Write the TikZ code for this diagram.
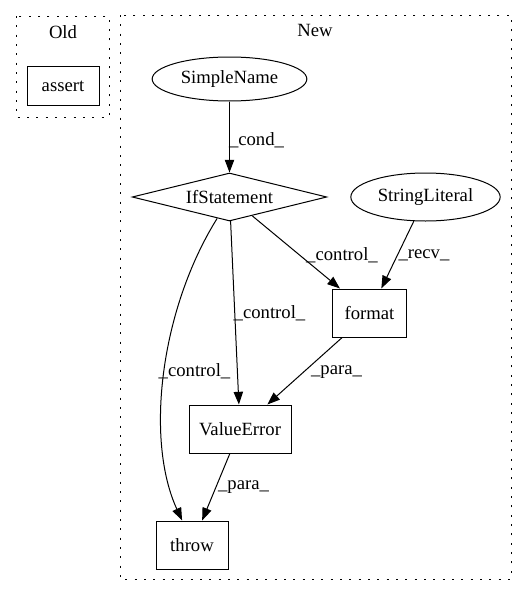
\documentclass[tikz,border=0pt]{standalone}
\usepackage{fontspec}
\setmainfont{Liberation Serif}
\usetikzlibrary{shapes.geometric, arrows.meta}

\begin{document}
\begin{tikzpicture}[
    x=0.75pt, y=-0.75pt,
    >={Triangle[length=9.5pt, width=7pt]}, % Graphviz-like arrows
    font=\fontsize{14pt}{16pt}\selectfont,
    % Styles
    cluster/.style={
        draw,
        line width=0.75pt,
        dash pattern=on 1.5pt off 5.5pt
    },
    stmt/.style={ % Plain statement box
        rectangle,
        draw,
        line width=0.75pt,
        minimum height=36pt,
        inner sep=0pt
    },
    leaf/.style={ % Name or literal
        ellipse,
        draw,
        line width=0.75pt,
        inner sep=0pt
    },
    cond/.style={
        diamond,
        aspect=4,
        draw,
        line width=0.75pt,
        minimum width=146pt,
        minimum height=36pt,
        inner sep=0pt
    },
    arrow/.style={
        ->,
        line width=0.75pt
    },
    edgelabel/.style={
        inner sep=0pt
    }
]
    \useasboundingbox (0,0) rectangle (527,596);

    % Clusters
    \draw[cluster] (16,16) rectangle (109,117);
    \node (old) at (63,32) {Old};
    \draw[cluster] (120,15) rectangle (511,579);
    \node (new) at (315,30) {New};

    % Old
    \node[stmt, minimum width=54pt, minimum height=29pt] (assert) at (63,86) {assert};

    % New
    \node[leaf, minimum width=116pt, minimum height=33pt] (simplename) at (229.5,79) {SimpleName};
    \node[cond] (ifstmt) at (229.5,197) {IfStatement};
    \node[leaf, minimum width=112pt, minimum height=36pt] (stringlit) at (425.5,197) {StringLiteral};
    \node[stmt, minimum width=55pt] (format) at (369.5,313) {format};
    \node[stmt, minimum width=76.5pt] (valueerror) at (240,429) {ValueError};
    \node[stmt, minimum width=54pt] (throw) at (192,545) {throw};

    % Connections
    \draw[arrow] (simplename) -- (ifstmt);
    \draw[arrow] (ifstmt) -- (format);
    \draw[arrow] (stringlit) -- (format);
    \draw[arrow] (ifstmt) -- (valueerror);
    \draw[arrow] (ifstmt.240) .. controls (160,310) and (145,440) .. (throw.112);
    \draw[arrow] (format) -- (valueerror);
    \draw[arrow] (valueerror) -- (throw);

    % Edge labels
    \node[edgelabel] (lcond) at (256.5,140) {\_cond\_};
    \node[edgelabel] (lctrlformat) at (342,255) {\_control\_};
    \node[edgelabel] (lrecv) at (424,255) {\_recv\_};
    \node[edgelabel] (lctrlvalue) at (269.5,313) {\_control\_};
    \node[edgelabel] (lctrlthrow) at (194.5,371) {\_control\_};
    \node[edgelabel] (lparavalue) at (336.5,372) {\_para\_};
    \node[edgelabel] (lparathrow) at (243.5,487) {\_para\_};
\end{tikzpicture}
\end{document}
